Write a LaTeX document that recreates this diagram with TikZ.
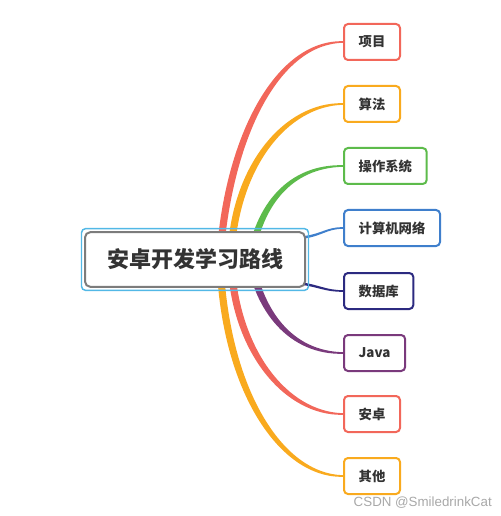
\documentclass[tikz,border=0pt]{standalone}
\usepackage{fontspec}
\setmainfont{Noto Sans CJK SC}
\newfontfamily\wmfont{Liberation Sans}
\usetikzlibrary{calc}
\definecolor{cred}{HTML}{F2675A}
\definecolor{corange}{HTML}{F9AA1E}
\definecolor{cgreen}{HTML}{5DBB4B}
\definecolor{cblue}{HTML}{3F7FCC}
\definecolor{cnavy}{HTML}{2C2A80}
\definecolor{cpurple}{HTML}{7A3A7C}
\definecolor{txt}{HTML}{333333}
\definecolor{rootgray}{HTML}{7C7C7C}
\definecolor{rootblue}{HTML}{52B8E6}
\definecolor{wmgray}{HTML}{A8A8A8}
\tikzset{
  leaf/.style={draw=#1, line width=1.5pt, rounded corners=3pt, fill=white,
    minimum height=27pt, inner xsep=11pt, anchor=west,
    font=\bfseries\fontsize{10}{12}\selectfont, text=txt},
  rootbox/.style={draw=rootgray, line width=1.5pt, rounded corners=4pt, fill=white,
    minimum width=165pt, minimum height=41pt,
    font=\bfseries\fontsize{16.5}{20}\selectfont, text=txt},
  rootframe/.style={draw=rootblue, line width=1.1pt, rounded corners=3pt},
  watermark/.style={font=\wmfont\fontsize{10}{12}\selectfont, text=wmgray, anchor=east, inner sep=0pt}
}
% #1 colour, #2 start, #3 c1, #4 c2, #5 end, #6..#9 half-width offsets at start, c1, c2, end
\newcommand\taperbranch[9]{%
  \fill[#1] ($(#2)+#6$) .. controls ($(#3)+#7$) and ($(#4)+#8$) .. ($(#5)+#9$)
    -- ($(#5)-#9$) .. controls ($(#4)-#8$) and ($(#3)-#7$) .. ($(#2)-#6$) -- cycle;}
\begin{document}
\begin{tikzpicture}[x=0.75pt,y=-0.75pt]
\useasboundingbox (0,0) rectangle (500,516);
% leaves
\node[leaf=cred]    (n1) at (343,42)  {项目};
\node[leaf=corange] (n2) at (343,104) {算法};
\node[leaf=cgreen]  (n3) at (343,166) {操作系统};
\node[leaf=cblue]   (n4) at (343,228) {计算机网络};
\node[leaf=cnavy]   (n5) at (343,291) {数据库};
\node[leaf=cpurple] (n6) at (343,353) {Java};
\node[leaf=cred]    (n7) at (343,414) {安卓};
\node[leaf=corange] (n8) at (343,476) {其他};
% branch roots
\coordinate (s1) at (220,255);
\coordinate (s2) at (231,255);
\coordinate (s3) at (250,262);
\coordinate (s4) at (298,238);
\coordinate (s5) at (298,283);
\coordinate (s6) at (250,256);
\coordinate (s7) at (231,262);
\coordinate (s8) at (220,262);
% branches
\taperbranch{cred}{s1}{229,137}{277,42}{n1.west}{(-3.5,0)}{(-4,-1)}{(-1.5,-2.2)}{(0,-0.8)}
\taperbranch{corange}{s2}{235,166}{286,104}{n2.west}{(-3.5,0)}{(-4,-1)}{(-1.5,-2.2)}{(0,-0.8)}
\taperbranch{cgreen}{s3}{258,205}{290,166}{n3.west}{(-3.5,0)}{(-3.5,-1)}{(-1.2,-2)}{(0,-0.8)}
\taperbranch{cblue}{s4}{322,236}{325,228}{n4.west}{(0,-1.3)}{(0,-1.2)}{(0,-1)}{(0,-0.8)}
\taperbranch{cnavy}{s5}{320,286}{325,291}{n5.west}{(0,1.3)}{(0,1.2)}{(0,1)}{(0,0.8)}
\taperbranch{cpurple}{s6}{258,310}{290,353}{n6.west}{(-3.8,0)}{(-3.8,1)}{(-1.2,2)}{(0,0.8)}
\taperbranch{cred}{s7}{235,351}{286,414}{n7.west}{(-3.5,0)}{(-4,1)}{(-1.5,2.2)}{(0,0.8)}
\taperbranch{corange}{s8}{225,388}{280,476}{n8.west}{(-3.5,0)}{(-4,1)}{(-1.5,2.2)}{(0,0.8)}
% root
\node[rootbox] (root) at (195,259.5) {安卓开发学习路线};
\draw[rootframe] ($(root.north west)+(-2.5,-2.5)$) rectangle ($(root.south east)+(2.5,2.5)$);
% watermark
\node[watermark] (wm) at (492,503) {CSDN @SmiledrinkCat};
\end{tikzpicture}
\end{document}
